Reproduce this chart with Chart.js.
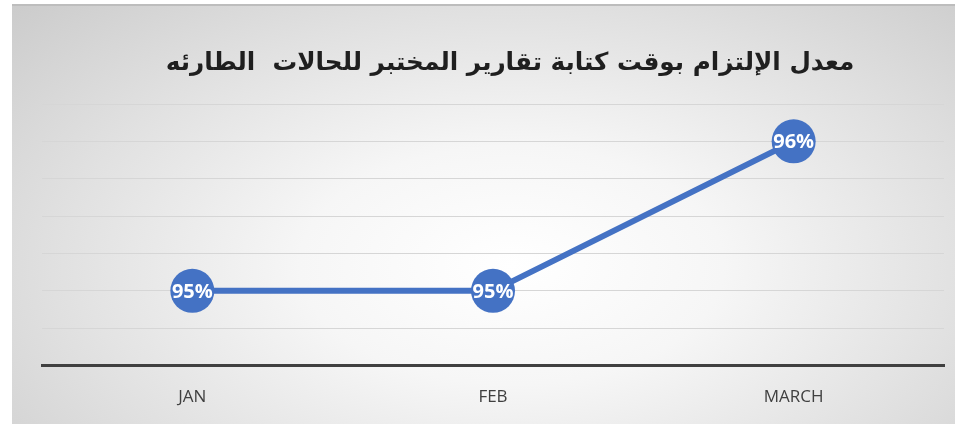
<!DOCTYPE html>
<html>
<head>
<meta charset="utf-8">
<script src="https://cdn.jsdelivr.net/npm/chart.js@4.4.0/dist/chart.umd.min.js"></script>
<style>
  html, body { margin: 0; padding: 0; background: #ffffff; overflow: hidden; }
  #box {
    position: absolute; left: 12px; top: 4px; width: 943px; height: 420px;
    border-top: 2px solid #bdbdbd; box-sizing: border-box; overflow: hidden;
    background: radial-gradient(ellipse 75% 95% at 53% 62%, #ffffff 0%, #f6f6f6 30%, #e0e0e0 65%, #c9c9c9 100%);
  }
  #c { position: absolute; left: 0; top: -2px; }
</style>
</head>
<body>
<div id="box"><canvas id="c" width="943" height="424"></canvas></div>
<script>
// chart data
var titleText = "معدل الإلتزام بوقت كتابة تقارير المختبر للحالات  الطارئه";
var months = ["JAN", "FEB", "MARCH"];
var rates = [95, 95, 96];
var yMin = 94.5, yMax = 96.25, yStep = 0.25;

var titlePlugin = {
    id: "arTitle",
    afterDraw: function (chart) {
        var ctx = chart.ctx;
        ctx.save();
        ctx.font = 'bold 27px "DejaVu Sans", "Liberation Sans", sans-serif';
        var w = ctx.measureText(titleText).width;
        var size = 27 * 690 / w;
        ctx.font = 'bold ' + size.toFixed(1) + 'px "DejaVu Sans", "Liberation Sans", sans-serif';
        ctx.fillStyle = "#1f1f1f";
        ctx.textAlign = "center";
        ctx.textBaseline = "middle";
        ctx.direction = "rtl";
        ctx.fillText(titleText, 498, 60);
        ctx.restore();
    }
};

var labelPlugin = {
    id: "pointLabels",
    afterDatasetsDraw: function (chart) {
        var ctx = chart.ctx;
        var meta = chart.getDatasetMeta(0);
        ctx.save();
        ctx.font = 'bold 20px "Open Sans", "DejaVu Sans", sans-serif';
        ctx.fillStyle = "#ffffff";
        ctx.textAlign = "center";
        ctx.textBaseline = "middle";
        meta.data.forEach(function (pt, i) {
            ctx.fillText(rates[i] + "%", pt.x, pt.y + 1);
        });
        ctx.restore();
    }
};

new Chart(document.getElementById("c"), {
    type: "line",
    data: {
        labels: months,
        datasets: [{
            data: rates,
            borderColor: "#4472C4",
            borderWidth: 6,
            backgroundColor: "#4472C4",
            pointRadius: 22,
            pointHoverRadius: 22,
            pointBorderWidth: 0,
            pointBackgroundColor: "#4472C4",
            tension: 0,
            clip: false
        }]
    },
    options: {
        responsive: false,
        animation: false,
        events: [],
        layout: { autoPadding: false, padding: { left: 30, right: 11, top: 100, bottom: 0 } },
        plugins: {
            legend: { display: false },
            title: { display: false },
            tooltip: { enabled: false }
        },
        scales: {
            x: {
                offset: true,
                grid: { display: false, drawTicks: false },
                border: { display: true, color: "#404040", width: 3 },
                ticks: {
                    color: "#404040",
                    padding: 21,
                    font: { family: '"Open Sans", "Liberation Sans", sans-serif', size: 17 }
                }
            },
            y: {
                min: yMin,
                max: yMax,
                grid: {
                    drawTicks: false,
                    lineWidth: 1,
                    color: function (c) { return c.tick && c.tick.value <= yMin ? "rgba(0,0,0,0)" : "#d6d6d6"; }
                },
                border: { display: false },
                ticks: { display: false, stepSize: yStep }
            }
        }
    },
    plugins: [titlePlugin, labelPlugin]
});
</script>
</body>
</html>
